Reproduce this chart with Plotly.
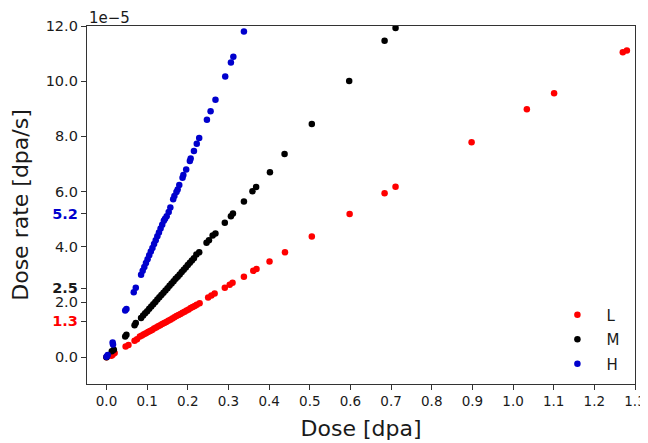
import plotly.graph_objects as go

# dose [dpa] and dose rate [1e-5 dpa/s]
dose_L = [0.0, 0.012, 0.015, 0.020, 0.047, 0.054, 0.069, 0.075,
          0.082, 0.087, 0.092, 0.097, 0.102, 0.107, 0.112, 0.117, 0.122, 0.127,
          0.132, 0.137, 0.142, 0.147, 0.152, 0.157, 0.162, 0.167, 0.172, 0.177,
          0.182, 0.187, 0.192, 0.197, 0.202, 0.207, 0.212, 0.217, 0.222, 0.229,
          0.250, 0.258, 0.266, 0.291, 0.303, 0.310, 0.338, 0.361, 0.369, 0.401,
          0.439, 0.505, 0.598, 0.684, 0.711, 0.898, 1.034, 1.101, 1.270, 1.280]
rate_L = [0.0, 0.05, 0.09, 0.15, 0.39, 0.44, 0.60, 0.65,
          0.75, 0.79, 0.83, 0.87, 0.91, 0.95, 0.99, 1.04, 1.08, 1.12,
          1.16, 1.20, 1.24, 1.28, 1.32, 1.36, 1.40, 1.45, 1.49, 1.53,
          1.57, 1.61, 1.65, 1.69, 1.73, 1.78, 1.82, 1.86, 1.90, 1.96,
          2.16, 2.24, 2.31, 2.52, 2.63, 2.70, 2.92, 3.13, 3.20, 3.47,
          3.80, 4.37, 5.19, 5.94, 6.18, 7.79, 8.98, 9.56, 11.05, 11.11]

dose_M = [0.0, 0.013, 0.018, 0.046, 0.049, 0.069, 0.072,
          0.085, 0.090, 0.095, 0.100, 0.105, 0.110, 0.115, 0.120, 0.125, 0.130,
          0.135, 0.140, 0.145, 0.150, 0.155, 0.160, 0.165, 0.170, 0.175, 0.180,
          0.185, 0.190, 0.195, 0.200, 0.205, 0.210, 0.215, 0.221, 0.228,
          0.246, 0.252, 0.261, 0.268, 0.291, 0.306, 0.311, 0.338, 0.359, 0.368,
          0.402, 0.438, 0.505, 0.597, 0.684, 0.711]
rate_M = [0.0, 0.22, 0.27, 0.75, 0.81, 1.16, 1.24,
          1.42, 1.51, 1.59, 1.67, 1.76, 1.84, 1.92, 2.00, 2.09, 2.17,
          2.25, 2.34, 2.42, 2.50, 2.59, 2.67, 2.75, 2.84, 2.92, 3.00,
          3.09, 3.17, 3.25, 3.34, 3.42, 3.50, 3.59, 3.72, 3.80,
          4.15, 4.24, 4.41, 4.48, 4.87, 5.11, 5.21, 5.64, 6.01, 6.17,
          6.70, 7.36, 8.45, 10.01, 11.47, 11.93]

dose_H = [0.0, 0.003, 0.015, 0.016, 0.046, 0.049, 0.067, 0.072,
          0.085, 0.089, 0.093, 0.097, 0.101, 0.105, 0.109, 0.113, 0.117, 0.121,
          0.125, 0.129, 0.133, 0.137, 0.141, 0.144,
          0.148, 0.153, 0.157, 0.164, 0.167, 0.172, 0.175, 0.179, 0.187, 0.189,
          0.196, 0.205, 0.207, 0.215, 0.222, 0.228, 0.247, 0.256, 0.268, 0.292,
          0.306, 0.312, 0.338]
rate_H = [0.02, 0.08, 0.53, 0.46, 1.69, 1.75, 2.35, 2.52,
          2.99, 3.13, 3.27, 3.41, 3.55, 3.69, 3.83, 3.96, 4.10, 4.24,
          4.38, 4.52, 4.66, 4.80, 4.94, 5.02,
          5.11, 5.26, 5.42, 5.72, 5.84, 5.99, 6.08, 6.24, 6.50, 6.60,
          6.80, 7.11, 7.20, 7.47, 7.73, 7.94, 8.60, 8.91, 9.33, 10.17,
          10.68, 10.89, 11.80]

ytick_vals = [0.0, 1.3, 2.0, 2.5, 4.0, 5.2, 6.0, 8.0, 10.0, 12.0]
ytick_text = ["0.0", '<span style="color:red"><b>1.3</b></span>', "2.0",
              "<b>2.5</b>", "4.0", '<span style="color:#0000cd"><b>5.2</b></span>',
              "6.0", "8.0", "10.0", "12.0"]
xtick_vals = [i / 10 for i in range(14)]

series = [("L", dose_L, rate_L, "red"),
          ("M", dose_M, rate_M, "black"),
          ("H", dose_H, rate_H, "#0000cd")]

fig = go.Figure()
for name, xs, ys, col in series:
    fig.add_trace(go.Scatter(x=xs, y=ys, mode="markers", name=name,
                             legendgroup=name,
                             marker=dict(color=col, size=6.5, line=dict(width=0))))

fnt = "DejaVu Sans"
# the page body adds an 8 px offset, margins compensate for it
fig.update_layout(
    width=648, height=443,
    margin=dict(l=79, r=21, t=18, b=67),
    paper_bgcolor="white", plot_bgcolor="white",
    font=dict(family=fnt, color="#1a1a1a"),
    showlegend=True,
    legend=dict(x=0.842, y=0.239, xanchor="left", yanchor="top",
                bgcolor="rgba(0,0,0,0)", font=dict(size=15),
                traceorder="grouped", tracegroupgap=2, itemwidth=48),
    xaxis=dict(range=[-0.048, 1.3], tickvals=xtick_vals,
               ticktext=[f"{v:.1f}" for v in xtick_vals], automargin=False,
               showgrid=False, zeroline=False, showline=True, mirror=True,
               linecolor="#333", linewidth=1.3, ticks="outside", ticklen=5,
               tickcolor="#333", tickfont=dict(size=13.5),
               title=dict(text="Dose [dpa]", font=dict(size=22), standoff=12)),
    yaxis=dict(range=[-0.97, 12.0], tickvals=ytick_vals, ticktext=ytick_text,
               automargin=False,
               showgrid=False, zeroline=False, showline=True, mirror=True,
               linecolor="#333", linewidth=1.3, ticks="outside", ticklen=5,
               tickcolor="#333", tickfont=dict(size=14.5),
               title=dict(text="Dose rate [dpa/s]", font=dict(size=22), standoff=16)),
)
fig.add_annotation(x=0, y=1.0, xref="paper", yref="paper", xanchor="left",
                   yanchor="bottom", text="1e\u22125", showarrow=False,
                   font=dict(size=15, family=fnt, color="#1a1a1a"), yshift=-3)

fig.write_html("out.html")
